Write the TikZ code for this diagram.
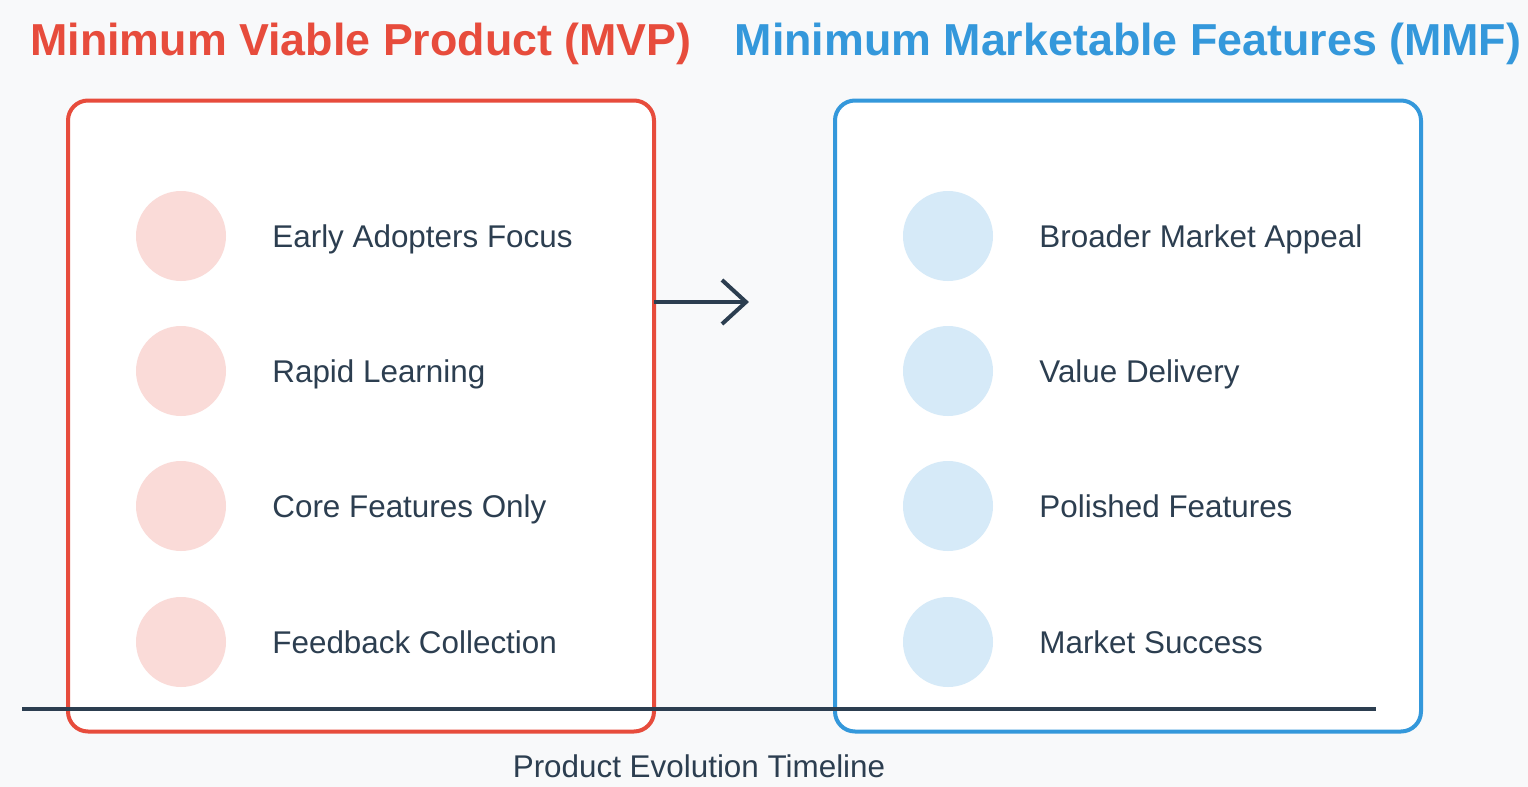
\documentclass[tikz,border=0pt]{standalone}
\usepackage{fontspec}
\setmainfont{Liberation Sans}
\definecolor{bgc}{HTML}{F8F9FA}
\definecolor{mvpred}{HTML}{E74C3C}
\definecolor{mmfblue}{HTML}{3498DB}
\definecolor{darkc}{HTML}{2C3E50}
\definecolor{lightred}{HTML}{FADBD8}
\definecolor{lightblue}{HTML}{D6EAF8}
\begin{document}
\begin{tikzpicture}[x=0.5pt,y=-0.5pt,
  titletext/.style={font=\fontsize{22.4pt}{26pt}\selectfont\bfseries, anchor=base},
  itemtext/.style={font=\fontsize{15.7pt}{19pt}\selectfont, text=darkc, anchor=base west, inner sep=0pt},
  panel/.style={draw, line width=2pt, fill=white, rounded corners=10pt},
  dot/.style={circle, minimum size=45pt, inner sep=0pt, draw=none},
  darkline/.style={draw=darkc, line width=2pt}
]
\fill[bgc] (0,0) rectangle (1528,787);
\useasboundingbox (0,0) rectangle (1528,787);

% titles
\node[titletext, text=mvpred] (t1) at (361,55) {Minimum Viable Product (MVP)};
\node[titletext, text=mmfblue] (t2) at (1128,55) {Minimum Marketable Features (MMF)};

% panels
\draw[panel, draw=mvpred] (68,100.5) rectangle (654,731.5);
\coordinate (mvpE) at (654,302);
\draw[panel, draw=mmfblue] (835,100.5) rectangle (1421,731.5);

% MVP items
\foreach \y/\n/\t in {236/a1/Early Adopters Focus, 371/a2/Rapid Learning, 506/a3/Core Features Only, 642/a4/Feedback Collection}{
  \node[dot, fill=lightred] (c\n) at (181,\y) {};
  \node[itemtext] (l\n) at (272,\y+11) {\t};
}
% MMF items
\foreach \y/\n/\t in {236/b1/Broader Market Appeal, 371/b2/Value Delivery, 506/b3/Polished Features, 642/b4/Market Success}{
  \node[dot, fill=lightblue] (c\n) at (948,\y) {};
  \node[itemtext] (l\n) at (1039,\y+11) {\t};
}

% arrow
\coordinate (arrtip) at (746,302);
\draw[darkline] (mvpE) -- (arrtip);
\draw[darkline, line join=miter] (722,280) -- (arrtip) -- (722,324);

% timeline
\coordinate (tlA) at (22,709);
\coordinate (tlB) at (1376,709);
\draw[darkline] (tlA) -- (tlB);
\node[itemtext, anchor=base] (tl) at (699,777) {Product Evolution Timeline};
\end{tikzpicture}
\end{document}
